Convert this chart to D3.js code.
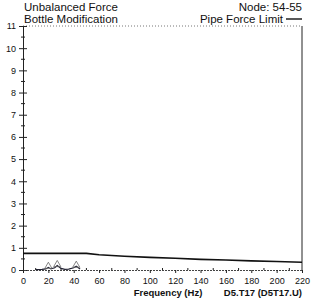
<!DOCTYPE html>
<html>
<head>
<meta charset="utf-8">
<script src="https://cdn.jsdelivr.net/npm/d3@7"></script>
<style>
  body { margin: 0; background: #fff; }
  svg { display: block; font-family: "Liberation Sans", Arial, sans-serif; }
</style>
</head>
<body>
<svg id="chart" width="320" height="302"></svg>
<script>
// limit curve
const limitFreq = [0, 10, 20, 30, 40, 50, 60, 80, 100, 120, 140, 160, 180, 200, 220];
const limitVal  = [0.75, 0.75, 0.75, 0.75, 0.75, 0.75, 0.69, 0.62, 0.57, 0.53, 0.48, 0.45, 0.41, 0.38, 0.35];
// response
const respFreq = [10, 15, 18, 20, 22, 25, 27, 30, 33, 36, 40, 42, 45];
const respVal  = [0.02, 0.03, 0.05, 0.12, 0.05, 0.1, 0.2, 0.07, 0.03, 0.04, 0.1, 0.17, 0.05];
const peakFreq = [20, 27, 42];
const peakVal  = [0.12, 0.2, 0.17];
const xTicks = d3.range(0, 221, 20);
const yTicks = d3.range(0, 12, 1);

const svg = d3.select('#chart');
const mLeft = 23, mRight = 302, mTop = 26, mBottom = 270;

const x = d3.scaleLinear().domain([0, 220]).range([mLeft, mRight]);
const y = d3.scaleLinear().domain([0, 11]).range([mBottom, mTop]);

// frame: top dotted, right solid
svg.append('line')
  .attr('x1', mLeft).attr('x2', mRight).attr('y1', mTop).attr('y2', mTop)
  .style('stroke', '#777').style('stroke-dasharray', '1,2');
svg.append('line')
  .attr('x1', mRight).attr('x2', mRight).attr('y1', mTop).attr('y2', mBottom)
  .style('stroke', '#222').style('stroke-width', 1);

// y axis
let yAxis = svg.append('g')
  .attr('transform', 'translate(' + mLeft + ',0)')
  .call(d3.axisLeft(y).tickValues(yTicks).tickSize(4).tickFormat(d3.format('d')));
yAxis.select('.domain').style('stroke', '#222');
yAxis.selectAll('.tick line').attr('x2', 4).attr('x1', -4).style('stroke', '#222');
yAxis.selectAll('text').style('font-size', '9px').attr('x', -7).attr('fill', '#111');
svg.append('g').selectAll('line')
  .data(d3.range(0.5, 11, 1))
  .enter().append('line')
  .attr('x1', mLeft - 2).attr('x2', mLeft + 2)
  .attr('y1', d => y(d)).attr('y2', d => y(d))
  .style('stroke', '#222');

// x axis
let xAxis = svg.append('g')
  .attr('transform', 'translate(0,' + mBottom + ')')
  .call(d3.axisBottom(x).tickValues(xTicks).tickSize(3));
xAxis.select('.domain').style('stroke', '#444').style('stroke-dasharray', '2,1');
xAxis.selectAll('.tick line').style('stroke', '#222');
xAxis.selectAll('text').style('font-size', '9px').attr('y', 8).attr('fill', '#111');
svg.append('g').selectAll('line')
  .data(d3.range(10, 220, 20))
  .enter().append('line')
  .attr('x1', d => x(d)).attr('x2', d => x(d))
  .attr('y1', mBottom - 2).attr('y2', mBottom)
  .style('stroke', '#222');

// limit line
let line = d3.line().x(d => x(d[0])).y(d => y(d[1]));
svg.append('path')
  .datum(limitFreq.map((f, i) => [f, limitVal[i]]))
  .attr('d', line)
  .style('fill', 'none').style('stroke', '#111').style('stroke-width', 1.6);

// response
svg.append('path')
  .datum(respFreq.map((f, i) => [f, respVal[i]]))
  .attr('d', line)
  .style('fill', 'none').style('stroke', '#223').style('stroke-width', 1.2);

svg.append('g').selectAll('path')
  .data(peakFreq.map((f, i) => [f, peakVal[i]]))
  .enter().append('path')
  .attr('d', d3.symbol().type(d3.symbolTriangle).size(22))
  .attr('transform', d => 'translate(' + x(d[0]) + ',' + (y(d[1]) - 1) + ')')
  .style('fill', 'none').style('stroke', '#666').style('stroke-width', 0.8);

// texts
const txt = (s, tx, ty, anchor, size) => svg.append('text')
  .attr('x', tx).attr('y', ty).attr('text-anchor', anchor)
  .style('font-size', size + 'px').attr('fill', '#111').text(s);
txt('Unbalanced Force', 24, 11, 'start', 11.5);
txt('Bottle Modification', 24, 23, 'start', 11.5);
txt('Node: 54-55', 302, 11, 'end', 11.5);
txt('Pipe Force Limit', 283, 23, 'end', 11.5);
svg.append('line')
  .attr('x1', 286).attr('x2', 302).attr('y1', 19).attr('y2', 19)
  .style('stroke', '#111').style('stroke-width', 1.4);
txt('Frequency (Hz)', 168, 296, 'middle', 9.5).style('font-weight', 'bold');
txt('D5.T17 (D5T17.U)', 302, 296, 'end', 9.5).style('font-weight', 'bold');
</script>
</body>
</html>
